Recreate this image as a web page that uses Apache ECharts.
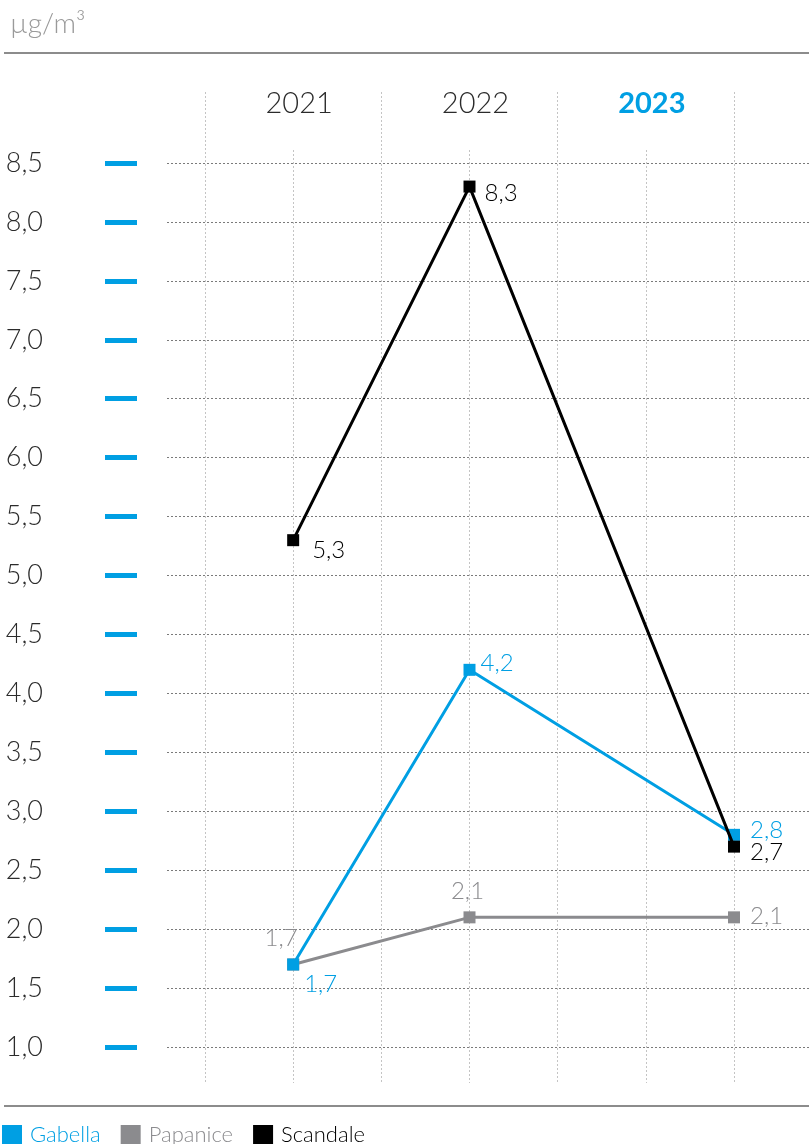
<!DOCTYPE html>
<html>
<head>
<meta charset="utf-8">
<script src="https://cdn.jsdelivr.net/npm/echarts@6/dist/echarts.min.js"></script>
<style>
  html, body { margin: 0; padding: 0; background: #fff; }
  #chart { width: 809px; height: 1144px; }
</style>
</head>
<body>
<div id="chart"></div>
<script>
// Annual mean concentration per station (µg/m³)
const years = ['2021', '2022', '2023'];
const gabella = [1.7, 4.2, 2.8];
const papanice = [1.7, 2.1, 2.1];
const scandale = [5.3, 8.3, 2.7];
const unitLabel = 'µg/m³';
const highlightYear = '2023';
// value axis ticks: 1,0 … 8,5 every 0,5
const yMin = 1;
const yMax = 8.5;
const yStep = 0.5;

// ---- layout & styling ----
const FONT = 'Lato, "Noto Sans", sans-serif';
const BLUE = '#009fe3';
const GREY = '#8b8b8e';
const BLACK = '#000000';

// the year columns are split into six equal steps; each year's point sits on one of them
const slotCount = 7;
const yearSlot = [1, 3, 6];
const slots = Array.from({ length: slotCount }, (_, i) => String(i));

const comma = v => Number(v).toFixed(1).replace('.', ',');

function seriesData(values, labels) {
  return values.map((v, i) => ({
    value: [yearSlot[i], v],
    label: labels[i]
  }));
}

const gabellaLabels = [
  { position: 'right', offset: [0, 20] },
  { position: 'right', offset: [0, -7] },
  { position: 'right', offset: [5, -5] }
];
const papaniceLabels = [
  { position: 'top', offset: [-12, -3] },
  { position: 'top', offset: [-2, -3] },
  { position: 'right', offset: [5, -1] }
];
const scandaleLabels = [
  { position: 'right', offset: [8, 10] },
  { position: 'right', offset: [4, 7] },
  { position: 'right', offset: [5, 6] }
];

function lineSeries(name, values, labels, color, z) {
  return {
    name,
    type: 'line',
    xAxisIndex: 3,
    yAxisIndex: 3,
    z,
    data: seriesData(values, labels),
    symbol: 'rect',
    symbolSize: 12,
    showSymbol: true,
    itemStyle: { color },
    lineStyle: { color, width: 3 },
    label: {
      show: true,
      color,
      fontSize: 24,
      fontFamily: FONT,
      fontWeight: 300,
      formatter: p => comma(p.value[1])
    },
    emphasis: { disabled: true },
    animation: false
  };
}

const chart = echarts.init(document.getElementById('chart'), null, { renderer: 'canvas' });

chart.setOption({
  backgroundColor: '#ffffff',
  animation: false,
  grid: [
    { left: 167, right: 0, top: 163, bottom: 97 },   // horizontal guides
    { left: 205, right: 75, top: 92, bottom: 61 },   // year columns
    { left: 205, right: 75, top: 150, bottom: 61 },  // column centre guides
    { left: 205, right: 75, top: 163, bottom: 97 },  // plot area
    { left: 137, right: 0, top: 163, bottom: 97 }    // value ticks and labels
  ],
  xAxis: [
    { gridIndex: 0, type: 'value', show: false },
    {
      gridIndex: 1,
      type: 'category',
      data: years,
      position: 'top',
      offset: -34,
      boundaryGap: true,
      axisLine: { show: false },
      axisTick: { show: false },
      axisLabel: {
        margin: 8,
        padding: [0, 0, 0, 12],
        formatter: v => (v === highlightYear ? '{hl|' + v + '}' : '{n|' + v + '}'),
        rich: {
          n: { fontSize: 29, fontFamily: FONT, fontWeight: 300, color: '#2b2b2b' },
          hl: { fontSize: 29, fontFamily: FONT, fontWeight: 'bold', color: BLUE }
        }
      },
      splitLine: { show: true, lineStyle: { color: '#c4c4c4', width: 1, type: [2, 2] } }
    },
    {
      gridIndex: 2,
      type: 'category',
      data: slots,
      boundaryGap: false,
      axisLine: { show: false },
      axisTick: { show: false },
      axisLabel: { show: false },
      splitLine: {
        show: true,
        interval: i => i % 2 === 1,
        lineStyle: { color: '#c4c4c4', width: 1, type: [2, 2] }
      }
    },
    { gridIndex: 3, type: 'category', data: slots, boundaryGap: false, show: false },
    { gridIndex: 4, type: 'value', show: false }
  ],
  yAxis: [
    {
      gridIndex: 0,
      type: 'value',
      min: yMin,
      max: yMax,
      interval: yStep,
      axisLine: { show: false },
      axisTick: { show: false },
      axisLabel: { show: false },
      splitLine: { show: true, lineStyle: { color: '#7a7a7a', width: 1, type: [2, 2] } }
    },
    { gridIndex: 1, type: 'value', show: false },
    { gridIndex: 2, type: 'value', show: false },
    { gridIndex: 3, type: 'value', min: yMin, max: yMax, show: false },
    {
      gridIndex: 4,
      type: 'value',
      min: yMin,
      max: yMax,
      interval: yStep,
      axisLine: { show: false },
      axisTick: { show: true, length: 32, lineStyle: { color: BLUE, width: 5 } },
      axisLabel: {
        margin: 94,
        fontSize: 27,
        fontFamily: FONT,
        fontWeight: 300,
        color: '#2b2b2b',
        formatter: v => comma(v)
      },
      splitLine: { show: false }
    }
  ],
  legend: {
    left: 2,
    top: 1124,
    padding: 0,
    icon: 'rect',
    itemWidth: 20,
    itemHeight: 20,
    itemGap: 20,
    selectedMode: false,
    textStyle: { fontSize: 22, fontFamily: FONT, fontWeight: 300, padding: [0, 0, 0, 3] },
    data: [
      { name: 'Gabella', textStyle: { color: BLUE } },
      { name: 'Papanice', textStyle: { color: GREY } },
      { name: 'Scandale', textStyle: { color: BLACK } }
    ]
  },
  graphic: [
    {
      type: 'text',
      left: 10,
      top: 10,
      style: { text: unitLabel, fontSize: 28, fontFamily: FONT, fontWeight: 300, fill: '#9a9a9a' }
    },
    {
      type: 'line',
      shape: { x1: 4, y1: 53, x2: 809, y2: 53 },
      style: { stroke: '#8c8c8c', lineWidth: 2 }
    },
    {
      type: 'line',
      shape: { x1: 4, y1: 1106, x2: 809, y2: 1106 },
      style: { stroke: '#8c8c8c', lineWidth: 2 }
    }
  ],
  series: [
    lineSeries('Gabella', gabella, gabellaLabels, BLUE, 3),
    lineSeries('Papanice', papanice, papaniceLabels, GREY, 2),
    lineSeries('Scandale', scandale, scandaleLabels, BLACK, 4)
  ]
});
</script>
</body>
</html>
